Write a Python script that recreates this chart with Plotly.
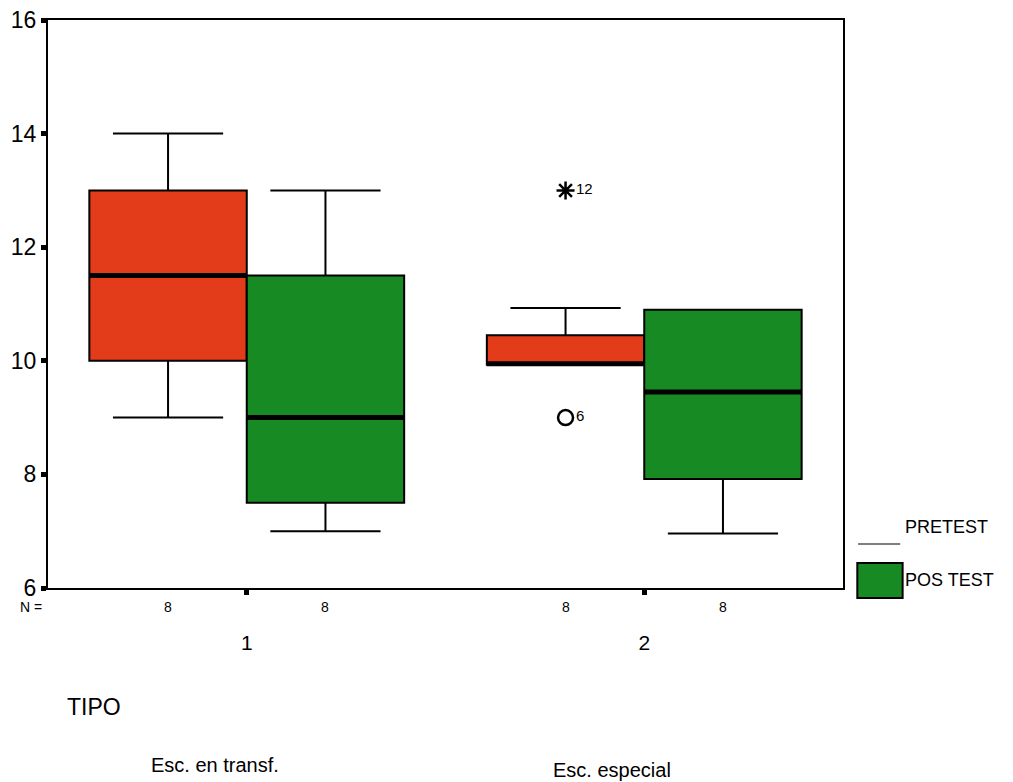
import plotly.graph_objects as go

# ---- data ----
tipo = [1, 2]
tipo_labels = ["1", "2"]
group_names = ["Esc. en transf.", "Esc. especial"]

pre_q1 = [10.0, 9.93]
pre_median = [11.5, 9.95]
pre_q3 = [13.0, 10.45]
pre_lower = [9.0, 9.93]
pre_upper = [14.0, 10.93]

post_q1 = [7.5, 7.92]
post_median = [9.0, 9.45]
post_q3 = [11.5, 10.9]
post_lower = [7.0, 6.96]
post_upper = [13.0, 10.9]

n_pre = [8, 8]
n_post = [8, 8]

# outliers (group 2, pretest)
out_values = [13, 9]
out_cases = ["12", "6"]
out_symbols = ["asterisk-open", "circle-open"]

# ---- style ----
RED = "#E33C1B"
GREEN = "#188A24"
BOX_W = 0.396
OFF = BOX_W / 2
FONT = "Liberation Sans, Arial, sans-serif"

pos_pre = [t - OFF for t in tipo]
pos_post = [t + OFF for t in tipo]

fig = go.Figure()

fig.add_trace(go.Box(
    x=pos_pre, q1=pre_q1, median=pre_median, q3=pre_q3,
    lowerfence=pre_lower, upperfence=pre_upper,
    width=BOX_W, fillcolor=RED, line=dict(color="black", width=2),
    whiskerwidth=0.7, boxpoints=False, showlegend=False, name="PRETEST"))

fig.add_trace(go.Box(
    x=pos_post, q1=post_q1, median=post_median, q3=post_q3,
    lowerfence=post_lower, upperfence=post_upper,
    width=BOX_W, fillcolor=GREEN, line=dict(color="black", width=2),
    whiskerwidth=0.7, boxpoints=False, showlegend=False, name="POS TEST"))

# thick medians
mx, my = [], []
for p, m in list(zip(pos_pre, pre_median)) + list(zip(pos_post, post_median)):
    mx += [p - OFF, p + OFF, None]
    my += [m, m, None]
fig.add_trace(go.Scatter(x=mx, y=my, mode="lines",
                         line=dict(color="black", width=5),
                         showlegend=False, hoverinfo="skip"))

# outliers
fig.add_trace(go.Scatter(
    x=[pos_pre[1]] * len(out_values), y=out_values,
    mode="markers+text", text=out_cases, textposition="middle right",
    textfont=dict(size=15, color="black", family=FONT),
    marker=dict(symbol=out_symbols, size=15, color="black",
                line=dict(color="black", width=2.5)),
    showlegend=False))

# N row (positions below the axis in pixels)
def below(px):
    return dict(yref="paper", y=0, yshift=-px)

ann = [dict(x=0.0, xref="paper", text="N =", showarrow=False,
            xanchor="right", yanchor="middle", xshift=-4,
            font=dict(size=14, family=FONT, color="black"), **below(19))]
for p, n in list(zip(pos_pre, n_pre)) + list(zip(pos_post, n_post)):
    ann.append(dict(x=p, xref="x", text=str(n), showarrow=False,
                    xanchor="center", yanchor="middle",
                    font=dict(size=14, family=FONT, color="black"), **below(19)))

ann.append(dict(x=0.021, xref="paper", text="TIPO", showarrow=False,
                xanchor="left", yanchor="middle",
                font=dict(size=23, family=FONT, color="black"), **below(119)))
for t, g, off in zip(tipo, group_names, [177, 182]):
    ann.append(dict(x=t - 0.08, xref="x", text=g, showarrow=False,
                    xanchor="center", yanchor="middle",
                    font=dict(size=20, family=FONT, color="black"), **below(off)))

# manual legend
ann.append(dict(x=1.075, xref="paper", text="PRETEST", showarrow=False,
                xanchor="left", yanchor="middle",
                font=dict(size=18, family=FONT, color="black"), **below(-61)))
ann.append(dict(x=1.075, xref="paper", text="POS TEST", showarrow=False,
                xanchor="left", yanchor="middle",
                font=dict(size=18, family=FONT, color="black"), **below(-8)))
shapes = [
    dict(type="line", xref="paper", yref="paper", ysizemode="pixel", yanchor=0,
         x0=1.019, x1=1.072, y0=44, y1=44, line=dict(color="#555555", width=1.5)),
    dict(type="rect", xref="paper", yref="paper", ysizemode="pixel", yanchor=0,
         x0=1.018, x1=1.075, y0=-10, y1=25, fillcolor=GREEN,
         line=dict(color="black", width=2)),
]

# page body adds an 8px margin, so the figure is sized to the remaining view
fig.update_layout(
    width=1005, height=774,
    margin=dict(l=40, r=170, t=12, b=194),
    paper_bgcolor="white", plot_bgcolor="white",
    font=dict(family=FONT, color="black"),
    annotations=ann, shapes=shapes, showlegend=False,
    xaxis=dict(range=[0.5, 2.5], tickvals=tipo, ticktext=tipo_labels,
               showline=True, mirror=True, linecolor="black", linewidth=2,
               ticks="outside", ticklen=5, tickwidth=5, tickcolor="black",
               showgrid=False, zeroline=False, ticklabelstandoff=30,
               automargin=False, tickfont=dict(size=21, family=FONT)),
    yaxis=dict(range=[6, 16], dtick=2, tick0=6,
               showline=True, mirror=True, linecolor="black", linewidth=2,
               ticks="outside", ticklen=5, tickwidth=5, tickcolor="black",
               showgrid=False, zeroline=False, automargin=False,
               ticklabeloverflow="allow",
               tickfont=dict(size=23, family=FONT)),
)

fig.write_html("out.html")
